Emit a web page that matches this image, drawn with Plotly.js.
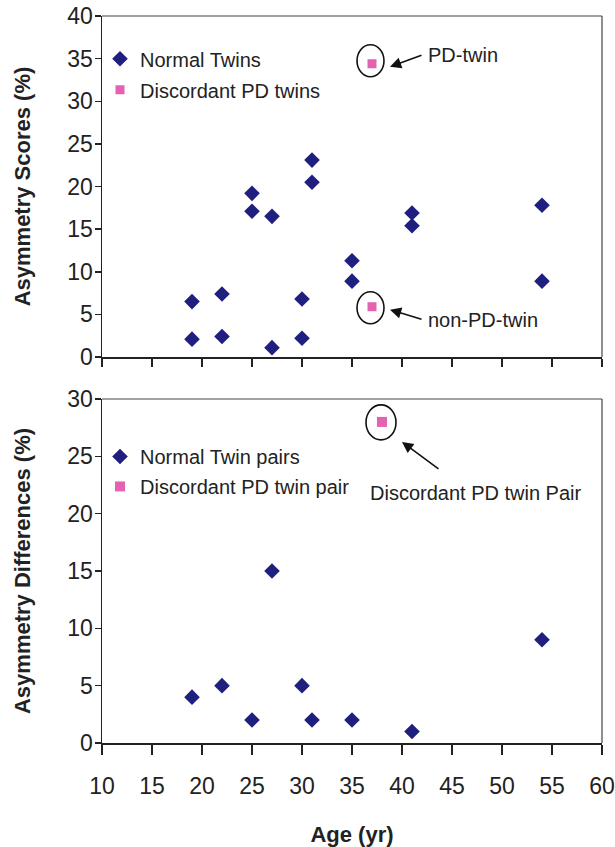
<!DOCTYPE html>
<html>
<head>
<meta charset="utf-8">
<script src="https://cdn.plot.ly/plotly-3.0.1.min.js"></script>
<style>
  html, body { margin: 0; padding: 0; background: #fff; }
  #chart { width: 615px; height: 847px; }
</style>
</head>
<body>
<div id="chart"></div>
<script>
// ---- Data ----
// Top panel: individual asymmetry scores of normal twins (two twins per age)
var twinAges   = [19, 19, 22, 22, 25, 25, 27, 27, 30, 30, 31, 31, 35, 35, 41, 41, 54, 54];
var twinScores = [6.5, 2.1, 7.4, 2.4, 19.2, 17.1, 16.5, 1.1, 6.8, 2.2, 23.1, 20.5, 11.3, 8.9, 16.9, 15.4, 17.8, 8.9];
// Discordant PD twins (PD-twin, non-PD-twin)
var pdAges   = [37, 37];
var pdScores = [34.4, 5.9];
var pdLabels = ['PD-twin', 'non-PD-twin'];

// Bottom panel: asymmetry differences per twin pair
var pairAges  = [19, 22, 25, 27, 30, 31, 35, 41, 54];
var pairDiffs = [4, 5, 2, 15, 5, 2, 2, 1, 9];
var pdPairAge  = [38];
var pdPairDiff = [28];
var pdPairLabel = 'Discordant PD twin Pair';

var xTicks = [10, 15, 20, 25, 30, 35, 40, 45, 50, 55, 60];

// ---- Style ----
var FONT = 'Liberation Sans, Arial, Helvetica, sans-serif';
var NAVY = '#1f1f80';
var PINK = '#e462b0';
var TXT = '#222222';

var traces = [
  { x: twinAges, y: twinScores, type: 'scatter', mode: 'markers', name: 'Normal Twins',
    marker: { symbol: 'diamond', size: 12, color: NAVY }, xaxis: 'x', yaxis: 'y',
    legend: 'legend', legendgroup: 'a' },
  { x: pdAges, y: pdScores, type: 'scatter', mode: 'markers', name: 'Discordant PD twins',
    marker: { symbol: 'square', size: 9, color: PINK }, xaxis: 'x', yaxis: 'y',
    legend: 'legend', legendgroup: 'b' },
  { x: pairAges, y: pairDiffs, type: 'scatter', mode: 'markers', name: 'Normal Twin pairs',
    marker: { symbol: 'diamond', size: 12, color: NAVY }, xaxis: 'x2', yaxis: 'y2',
    legend: 'legend2', legendgroup: 'c' },
  { x: pdPairAge, y: pdPairDiff, type: 'scatter', mode: 'markers', name: 'Discordant PD twin pair',
    marker: { symbol: 'square', size: 10, color: PINK }, xaxis: 'x2', yaxis: 'y2',
    legend: 'legend2', legendgroup: 'd' }
];

function ellipse(xref, yref, xa, ya, x0, x1, y0, y1) {
  return { type: 'circle', xref: xref, yref: yref, xsizemode: 'pixel', ysizemode: 'pixel',
    xanchor: xa, yanchor: ya, x0: x0, x1: x1, y0: y0, y1: y1,
    line: { color: '#111', width: 1.6 } };
}
function border(xref, yref, x0, y0, x1, y1) {
  return { type: 'line', xref: xref, yref: yref, x0: x0, y0: y0, x1: x1, y1: y1,
    line: { color: '#444', width: 1.2 } };
}

var shapes = [
  ellipse('x', 'y', pdAges[0], pdScores[0], -15, 12, -13, 19),
  ellipse('x', 'y', pdAges[1], pdScores[1], -15, 12, -17, 15),
  ellipse('x2', 'y2', pdPairAge[0], pdPairDiff[0], -16, 14, -18, 17),
  border('x domain', 'y domain', 0, 1, 1, 1),
  border('x domain', 'y domain', 1, 0, 1, 1),
  border('x2 domain', 'y2 domain', 0, 1, 1, 1),
  border('x2 domain', 'y2 domain', 1, 0, 1, 1)
];

function arrow(xref, yref, x, y, xs, ys, ax, ay) {
  return { xref: xref, yref: yref, x: x, y: y, xshift: xs, yshift: ys, text: '',
    showarrow: true, ax: ax, ay: ay, arrowhead: 2, arrowsize: 1.4, arrowwidth: 1.6,
    arrowcolor: '#111', standoff: 0, startstandoff: 0 };
}
function label(xref, yref, x, y, xs, ys, text) {
  return { xref: xref, yref: yref, x: x, y: y, xshift: xs, yshift: ys, text: text,
    showarrow: false, xanchor: 'left', yanchor: 'middle',
    font: { family: FONT, size: 20, color: TXT } };
}

var annotations = [
  arrow('x', 'y', pdAges[0], pdScores[0], 18, -3, 33, -12),
  label('x', 'y', pdAges[0], pdScores[0], 54, 9, pdLabels[0]),
  arrow('x', 'y', pdAges[1], pdScores[1], 18, -3, 33, 10),
  label('x', 'y', pdAges[1], pdScores[1], 54, -13, pdLabels[1]),
  arrow('x2', 'y2', pdPairAge[0], pdPairDiff[0], 20, -20, 38, 28),
  label('x2', 'y2', pdPairAge[0], pdPairDiff[0], -14, -71, pdPairLabel)
];

var axisCommon = {
  showgrid: false, zeroline: false, showline: true, linecolor: '#222', linewidth: 1.5,
  ticks: 'outside', tickcolor: '#222', tickwidth: 1.5,
  tickfont: { family: FONT, size: 23, color: TXT }
};

var layout = {
  width: 615, height: 847,
  margin: { l: 102, r: 13, t: 16, b: 104, pad: 0 },
  paper_bgcolor: '#ffffff', plot_bgcolor: '#ffffff',
  font: { family: FONT, color: TXT },
  showlegend: true,
  xaxis: Object.assign({}, axisCommon, {
    domain: [0, 1], anchor: 'y', range: [10, 60], tickvals: xTicks, ticklen: 8,
    showticklabels: false
  }),
  yaxis: Object.assign({}, axisCommon, {
    domain: [0.5309, 1], anchor: 'x', range: [0, 40], dtick: 5, tick0: 0, ticklen: 6,
    ticklabelstandoff: -3,
    title: { text: '<b>Asymmetry Scores (%)</b>', standoff: 30,
      font: { family: FONT, size: 22, color: TXT } }
  }),
  xaxis2: Object.assign({}, axisCommon, {
    domain: [0, 1], anchor: 'y2', range: [10, 60], tickvals: xTicks, ticklen: 10,
    ticklabelstandoff: 12,
    title: { text: '<b>Age (yr)</b>', standoff: 32,
      font: { family: FONT, size: 22, color: TXT } }
  }),
  yaxis2: Object.assign({}, axisCommon, {
    domain: [0, 0.4732], anchor: 'x2', range: [0, 30], dtick: 5, tick0: 0, ticklen: 6,
    ticklabelstandoff: -3,
    title: { text: '<b>Asymmetry Differences (%)</b>', standoff: 30,
      font: { family: FONT, size: 22, color: TXT } }
  }),
  legend: {
    x: -0.004, xanchor: 'left', y: 0.968, yanchor: 'top',
    bgcolor: 'rgba(0,0,0,0)', borderwidth: 0,
    font: { family: FONT, size: 20, color: TXT },
    traceorder: 'grouped', tracegroupgap: 2
  },
  legend2: {
    x: -0.004, xanchor: 'left', y: 0.421, yanchor: 'top',
    bgcolor: 'rgba(0,0,0,0)', borderwidth: 0,
    font: { family: FONT, size: 20, color: TXT },
    traceorder: 'grouped', tracegroupgap: 1
  },
  shapes: shapes,
  annotations: annotations
};

Plotly.newPlot('chart', traces, layout, { staticPlot: true, displayModeBar: false });
</script>
</body>
</html>
